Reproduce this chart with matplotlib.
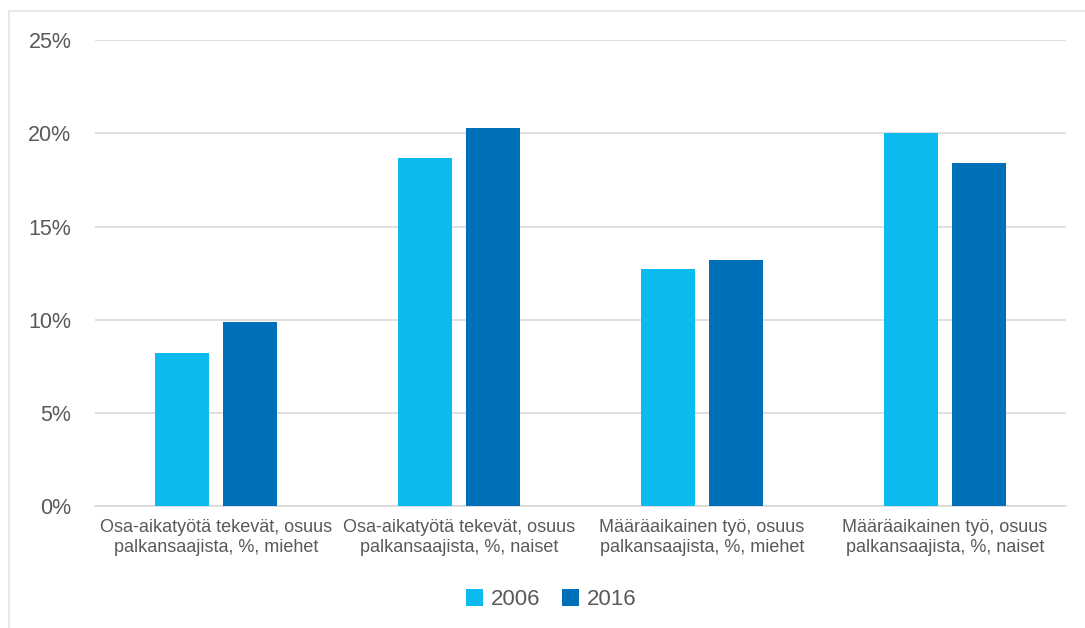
import numpy as np
import matplotlib.pyplot as plt
from matplotlib.patches import Rectangle
from matplotlib.ticker import PercentFormatter

plt.rcParams['font.family'] = ['Liberation Sans', 'DejaVu Sans']

categories = ['Osa-aikatyötä tekevät, osuus\npalkansaajista, %, miehet',
              'Osa-aikatyötä tekevät, osuus\npalkansaajista, %, naiset',
              'Määräaikainen työ, osuus\npalkansaajista, %, miehet',
              'Määräaikainen työ, osuus\npalkansaajista, %, naiset']
years = ['2006', '2016']
v2006 = [8.2, 18.7, 12.7, 20.0]
v2016 = [9.9, 20.3, 13.2, 18.4]
colors = ['#0BBBEF', '#006FBA']

txt = '#595959'

fig = plt.figure(figsize=(10.85, 6.28), dpi=100)
ax = fig.add_axes([0.0876, 0.194, 0.895, 0.742])

x = np.arange(len(categories))
w = 0.222
off = 0.14
ax.bar(x - off, v2006, w, color=colors[0], label=years[0], zorder=3)
ax.bar(x + off, v2016, w, color=colors[1], label=years[1], zorder=3)

ax.set_xlim(-0.5, len(categories) - 0.5)
ax.set_ylim(0, 25)
ax.set_yticks(np.arange(0, 26, 5))
ax.yaxis.set_major_formatter(PercentFormatter(decimals=0))
ax.grid(axis='y', color='#D9D9D9', linewidth=1.2, zorder=0)
for s in ['top', 'right', 'left']:
    ax.spines[s].set_visible(False)
ax.spines['bottom'].set_color('#D9D9D9')
ax.spines['bottom'].set_linewidth(1.2)
ax.tick_params(axis='y', length=0, labelsize=15.5, labelcolor=txt, pad=17)
ax.tick_params(axis='x', length=0, labelsize=13, labelcolor=txt, pad=9)
ax.set_xticks(x)
ax.set_xticklabels(categories, linespacing=1.25)

leg = fig.legend(loc='center', bbox_to_anchor=(0.508, 0.045), ncol=2, frameon=False,
                 fontsize=16, handlelength=0.75, handleheight=0.75, handletextpad=0.35,
                 columnspacing=1.0)
for t in leg.get_texts():
    t.set_color(txt)

# outer chart frame (left and top edges visible)
fig.patches.append(Rectangle((9 / 1085, -0.1), 1.2, 1.1 - 11 / 628,
                             transform=fig.transFigure, fill=False,
                             edgecolor='#E3E3E3', linewidth=1.2))

fig.savefig('out.png', dpi=100)
